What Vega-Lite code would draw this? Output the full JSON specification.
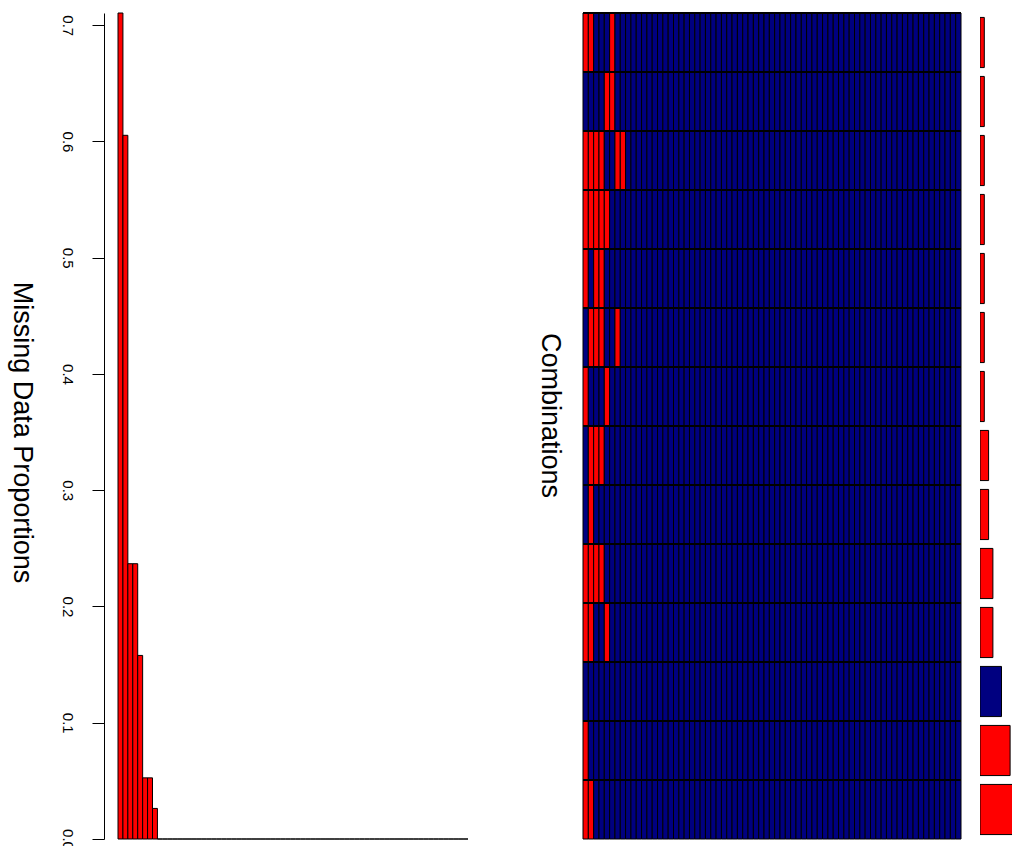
{
"$schema": "https://vega.github.io/schema/vega-lite/v6.json",
"padding": {"left": 8, "top": 12, "right": 0, "bottom": 0},
"config": {"view": {"stroke": null}, "font": "Liberation Sans"},
"bounds": "flush",
"spacing": 115,
"datasets": {
"vars": [{"v":1,"p":0.7105},{"v":2,"p":0.6053},{"v":3,"p":0.2368},{"v":4,"p":0.2368},{"v":5,"p":0.1579},{"v":6,"p":0.0526},{"v":7,"p":0.0526},{"v":8,"p":0.0263},{"v":9,"p":0},{"v":10,"p":0},{"v":11,"p":0},{"v":12,"p":0},{"v":13,"p":0},{"v":14,"p":0},{"v":15,"p":0},{"v":16,"p":0},{"v":17,"p":0},{"v":18,"p":0},{"v":19,"p":0},{"v":20,"p":0},{"v":21,"p":0},{"v":22,"p":0},{"v":23,"p":0},{"v":24,"p":0},{"v":25,"p":0},{"v":26,"p":0},{"v":27,"p":0},{"v":28,"p":0},{"v":29,"p":0},{"v":30,"p":0},{"v":31,"p":0},{"v":32,"p":0},{"v":33,"p":0},{"v":34,"p":0},{"v":35,"p":0},{"v":36,"p":0},{"v":37,"p":0},{"v":38,"p":0},{"v":39,"p":0},{"v":40,"p":0},{"v":41,"p":0},{"v":42,"p":0},{"v":43,"p":0},{"v":44,"p":0},{"v":45,"p":0},{"v":46,"p":0},{"v":47,"p":0},{"v":48,"p":0},{"v":49,"p":0},{"v":50,"p":0},{"v":51,"p":0},{"v":52,"p":0},{"v":53,"p":0},{"v":54,"p":0},{"v":55,"p":0},{"v":56,"p":0},{"v":57,"p":0},{"v":58,"p":0},{"v":59,"p":0},{"v":60,"p":0},{"v":61,"p":0},{"v":62,"p":0},{"v":63,"p":0},{"v":64,"p":0},{"v":65,"p":0},{"v":66,"p":0},{"v":67,"p":0},{"v":68,"p":0},{"v":69,"p":0},{"v":70,"p":0},{"v":71,"p":0}],
"combos": [{"r":1,"n":1},{"r":2,"n":1},{"r":3,"n":1},{"r":4,"n":1},{"r":5,"n":1},{"r":6,"n":1},{"r":7,"n":1},{"r":8,"n":2},{"r":9,"n":2},{"r":10,"n":3},{"r":11,"n":3},{"r":12,"n":5,"k":1},{"r":13,"n":7},{"r":14,"n":9}],
"cells": [
{"r":1,"v":1,"m":1},{"r":1,"v":2,"m":1},{"r":1,"v":3},{"r":1,"v":4},{"r":1,"v":5},{"r":1,"v":6,"m":1},{"r":1,"v":7},{"r":1,"v":8},{"r":1,"v":9},{"r":1,"v":10},{"r":1,"v":11},{"r":1,"v":12},{"r":1,"v":13},{"r":1,"v":14},{"r":1,"v":15},{"r":1,"v":16},{"r":1,"v":17},{"r":1,"v":18},{"r":1,"v":19},{"r":1,"v":20},{"r":1,"v":21},{"r":1,"v":22},{"r":1,"v":23},{"r":1,"v":24},{"r":1,"v":25},{"r":1,"v":26},{"r":1,"v":27},{"r":1,"v":28},{"r":1,"v":29},{"r":1,"v":30},{"r":1,"v":31},{"r":1,"v":32},{"r":1,"v":33},{"r":1,"v":34},{"r":1,"v":35},{"r":1,"v":36},{"r":1,"v":37},{"r":1,"v":38},{"r":1,"v":39},{"r":1,"v":40},{"r":1,"v":41},{"r":1,"v":42},{"r":1,"v":43},{"r":1,"v":44},{"r":1,"v":45},{"r":1,"v":46},{"r":1,"v":47},{"r":1,"v":48},{"r":1,"v":49},{"r":1,"v":50},{"r":1,"v":51},{"r":1,"v":52},{"r":1,"v":53},{"r":1,"v":54},{"r":1,"v":55},{"r":1,"v":56},{"r":1,"v":57},{"r":1,"v":58},{"r":1,"v":59},{"r":1,"v":60},{"r":1,"v":61},{"r":1,"v":62},{"r":1,"v":63},{"r":1,"v":64},{"r":1,"v":65},{"r":1,"v":66},{"r":1,"v":67},{"r":1,"v":68},{"r":1,"v":69},{"r":1,"v":70},{"r":1,"v":71},
{"r":2,"v":1},{"r":2,"v":2},{"r":2,"v":3},{"r":2,"v":4},{"r":2,"v":5,"m":1},{"r":2,"v":6,"m":1},{"r":2,"v":7},{"r":2,"v":8},{"r":2,"v":9},{"r":2,"v":10},{"r":2,"v":11},{"r":2,"v":12},{"r":2,"v":13},{"r":2,"v":14},{"r":2,"v":15},{"r":2,"v":16},{"r":2,"v":17},{"r":2,"v":18},{"r":2,"v":19},{"r":2,"v":20},{"r":2,"v":21},{"r":2,"v":22},{"r":2,"v":23},{"r":2,"v":24},{"r":2,"v":25},{"r":2,"v":26},{"r":2,"v":27},{"r":2,"v":28},{"r":2,"v":29},{"r":2,"v":30},{"r":2,"v":31},{"r":2,"v":32},{"r":2,"v":33},{"r":2,"v":34},{"r":2,"v":35},{"r":2,"v":36},{"r":2,"v":37},{"r":2,"v":38},{"r":2,"v":39},{"r":2,"v":40},{"r":2,"v":41},{"r":2,"v":42},{"r":2,"v":43},{"r":2,"v":44},{"r":2,"v":45},{"r":2,"v":46},{"r":2,"v":47},{"r":2,"v":48},{"r":2,"v":49},{"r":2,"v":50},{"r":2,"v":51},{"r":2,"v":52},{"r":2,"v":53},{"r":2,"v":54},{"r":2,"v":55},{"r":2,"v":56},{"r":2,"v":57},{"r":2,"v":58},{"r":2,"v":59},{"r":2,"v":60},{"r":2,"v":61},{"r":2,"v":62},{"r":2,"v":63},{"r":2,"v":64},{"r":2,"v":65},{"r":2,"v":66},{"r":2,"v":67},{"r":2,"v":68},{"r":2,"v":69},{"r":2,"v":70},{"r":2,"v":71},
{"r":3,"v":1,"m":1},{"r":3,"v":2,"m":1},{"r":3,"v":3,"m":1},{"r":3,"v":4,"m":1},{"r":3,"v":5},{"r":3,"v":6},{"r":3,"v":7,"m":1},{"r":3,"v":8,"m":1},{"r":3,"v":9},{"r":3,"v":10},{"r":3,"v":11},{"r":3,"v":12},{"r":3,"v":13},{"r":3,"v":14},{"r":3,"v":15},{"r":3,"v":16},{"r":3,"v":17},{"r":3,"v":18},{"r":3,"v":19},{"r":3,"v":20},{"r":3,"v":21},{"r":3,"v":22},{"r":3,"v":23},{"r":3,"v":24},{"r":3,"v":25},{"r":3,"v":26},{"r":3,"v":27},{"r":3,"v":28},{"r":3,"v":29},{"r":3,"v":30},{"r":3,"v":31},{"r":3,"v":32},{"r":3,"v":33},{"r":3,"v":34},{"r":3,"v":35},{"r":3,"v":36},{"r":3,"v":37},{"r":3,"v":38},{"r":3,"v":39},{"r":3,"v":40},{"r":3,"v":41},{"r":3,"v":42},{"r":3,"v":43},{"r":3,"v":44},{"r":3,"v":45},{"r":3,"v":46},{"r":3,"v":47},{"r":3,"v":48},{"r":3,"v":49},{"r":3,"v":50},{"r":3,"v":51},{"r":3,"v":52},{"r":3,"v":53},{"r":3,"v":54},{"r":3,"v":55},{"r":3,"v":56},{"r":3,"v":57},{"r":3,"v":58},{"r":3,"v":59},{"r":3,"v":60},{"r":3,"v":61},{"r":3,"v":62},{"r":3,"v":63},{"r":3,"v":64},{"r":3,"v":65},{"r":3,"v":66},{"r":3,"v":67},{"r":3,"v":68},{"r":3,"v":69},{"r":3,"v":70},{"r":3,"v":71},
{"r":4,"v":1,"m":1},{"r":4,"v":2,"m":1},{"r":4,"v":3,"m":1},{"r":4,"v":4,"m":1},{"r":4,"v":5,"m":1},{"r":4,"v":6},{"r":4,"v":7},{"r":4,"v":8},{"r":4,"v":9},{"r":4,"v":10},{"r":4,"v":11},{"r":4,"v":12},{"r":4,"v":13},{"r":4,"v":14},{"r":4,"v":15},{"r":4,"v":16},{"r":4,"v":17},{"r":4,"v":18},{"r":4,"v":19},{"r":4,"v":20},{"r":4,"v":21},{"r":4,"v":22},{"r":4,"v":23},{"r":4,"v":24},{"r":4,"v":25},{"r":4,"v":26},{"r":4,"v":27},{"r":4,"v":28},{"r":4,"v":29},{"r":4,"v":30},{"r":4,"v":31},{"r":4,"v":32},{"r":4,"v":33},{"r":4,"v":34},{"r":4,"v":35},{"r":4,"v":36},{"r":4,"v":37},{"r":4,"v":38},{"r":4,"v":39},{"r":4,"v":40},{"r":4,"v":41},{"r":4,"v":42},{"r":4,"v":43},{"r":4,"v":44},{"r":4,"v":45},{"r":4,"v":46},{"r":4,"v":47},{"r":4,"v":48},{"r":4,"v":49},{"r":4,"v":50},{"r":4,"v":51},{"r":4,"v":52},{"r":4,"v":53},{"r":4,"v":54},{"r":4,"v":55},{"r":4,"v":56},{"r":4,"v":57},{"r":4,"v":58},{"r":4,"v":59},{"r":4,"v":60},{"r":4,"v":61},{"r":4,"v":62},{"r":4,"v":63},{"r":4,"v":64},{"r":4,"v":65},{"r":4,"v":66},{"r":4,"v":67},{"r":4,"v":68},{"r":4,"v":69},{"r":4,"v":70},{"r":4,"v":71},
{"r":5,"v":1,"m":1},{"r":5,"v":2},{"r":5,"v":3,"m":1},{"r":5,"v":4,"m":1},{"r":5,"v":5},{"r":5,"v":6},{"r":5,"v":7},{"r":5,"v":8},{"r":5,"v":9},{"r":5,"v":10},{"r":5,"v":11},{"r":5,"v":12},{"r":5,"v":13},{"r":5,"v":14},{"r":5,"v":15},{"r":5,"v":16},{"r":5,"v":17},{"r":5,"v":18},{"r":5,"v":19},{"r":5,"v":20},{"r":5,"v":21},{"r":5,"v":22},{"r":5,"v":23},{"r":5,"v":24},{"r":5,"v":25},{"r":5,"v":26},{"r":5,"v":27},{"r":5,"v":28},{"r":5,"v":29},{"r":5,"v":30},{"r":5,"v":31},{"r":5,"v":32},{"r":5,"v":33},{"r":5,"v":34},{"r":5,"v":35},{"r":5,"v":36},{"r":5,"v":37},{"r":5,"v":38},{"r":5,"v":39},{"r":5,"v":40},{"r":5,"v":41},{"r":5,"v":42},{"r":5,"v":43},{"r":5,"v":44},{"r":5,"v":45},{"r":5,"v":46},{"r":5,"v":47},{"r":5,"v":48},{"r":5,"v":49},{"r":5,"v":50},{"r":5,"v":51},{"r":5,"v":52},{"r":5,"v":53},{"r":5,"v":54},{"r":5,"v":55},{"r":5,"v":56},{"r":5,"v":57},{"r":5,"v":58},{"r":5,"v":59},{"r":5,"v":60},{"r":5,"v":61},{"r":5,"v":62},{"r":5,"v":63},{"r":5,"v":64},{"r":5,"v":65},{"r":5,"v":66},{"r":5,"v":67},{"r":5,"v":68},{"r":5,"v":69},{"r":5,"v":70},{"r":5,"v":71},
{"r":6,"v":1},{"r":6,"v":2,"m":1},{"r":6,"v":3,"m":1},{"r":6,"v":4,"m":1},{"r":6,"v":5},{"r":6,"v":6},{"r":6,"v":7,"m":1},{"r":6,"v":8},{"r":6,"v":9},{"r":6,"v":10},{"r":6,"v":11},{"r":6,"v":12},{"r":6,"v":13},{"r":6,"v":14},{"r":6,"v":15},{"r":6,"v":16},{"r":6,"v":17},{"r":6,"v":18},{"r":6,"v":19},{"r":6,"v":20},{"r":6,"v":21},{"r":6,"v":22},{"r":6,"v":23},{"r":6,"v":24},{"r":6,"v":25},{"r":6,"v":26},{"r":6,"v":27},{"r":6,"v":28},{"r":6,"v":29},{"r":6,"v":30},{"r":6,"v":31},{"r":6,"v":32},{"r":6,"v":33},{"r":6,"v":34},{"r":6,"v":35},{"r":6,"v":36},{"r":6,"v":37},{"r":6,"v":38},{"r":6,"v":39},{"r":6,"v":40},{"r":6,"v":41},{"r":6,"v":42},{"r":6,"v":43},{"r":6,"v":44},{"r":6,"v":45},{"r":6,"v":46},{"r":6,"v":47},{"r":6,"v":48},{"r":6,"v":49},{"r":6,"v":50},{"r":6,"v":51},{"r":6,"v":52},{"r":6,"v":53},{"r":6,"v":54},{"r":6,"v":55},{"r":6,"v":56},{"r":6,"v":57},{"r":6,"v":58},{"r":6,"v":59},{"r":6,"v":60},{"r":6,"v":61},{"r":6,"v":62},{"r":6,"v":63},{"r":6,"v":64},{"r":6,"v":65},{"r":6,"v":66},{"r":6,"v":67},{"r":6,"v":68},{"r":6,"v":69},{"r":6,"v":70},{"r":6,"v":71},
{"r":7,"v":1,"m":1},{"r":7,"v":2},{"r":7,"v":3},{"r":7,"v":4},{"r":7,"v":5,"m":1},{"r":7,"v":6},{"r":7,"v":7},{"r":7,"v":8},{"r":7,"v":9},{"r":7,"v":10},{"r":7,"v":11},{"r":7,"v":12},{"r":7,"v":13},{"r":7,"v":14},{"r":7,"v":15},{"r":7,"v":16},{"r":7,"v":17},{"r":7,"v":18},{"r":7,"v":19},{"r":7,"v":20},{"r":7,"v":21},{"r":7,"v":22},{"r":7,"v":23},{"r":7,"v":24},{"r":7,"v":25},{"r":7,"v":26},{"r":7,"v":27},{"r":7,"v":28},{"r":7,"v":29},{"r":7,"v":30},{"r":7,"v":31},{"r":7,"v":32},{"r":7,"v":33},{"r":7,"v":34},{"r":7,"v":35},{"r":7,"v":36},{"r":7,"v":37},{"r":7,"v":38},{"r":7,"v":39},{"r":7,"v":40},{"r":7,"v":41},{"r":7,"v":42},{"r":7,"v":43},{"r":7,"v":44},{"r":7,"v":45},{"r":7,"v":46},{"r":7,"v":47},{"r":7,"v":48},{"r":7,"v":49},{"r":7,"v":50},{"r":7,"v":51},{"r":7,"v":52},{"r":7,"v":53},{"r":7,"v":54},{"r":7,"v":55},{"r":7,"v":56},{"r":7,"v":57},{"r":7,"v":58},{"r":7,"v":59},{"r":7,"v":60},{"r":7,"v":61},{"r":7,"v":62},{"r":7,"v":63},{"r":7,"v":64},{"r":7,"v":65},{"r":7,"v":66},{"r":7,"v":67},{"r":7,"v":68},{"r":7,"v":69},{"r":7,"v":70},{"r":7,"v":71},
{"r":8,"v":1},{"r":8,"v":2,"m":1},{"r":8,"v":3,"m":1},{"r":8,"v":4,"m":1},{"r":8,"v":5},{"r":8,"v":6},{"r":8,"v":7},{"r":8,"v":8},{"r":8,"v":9},{"r":8,"v":10},{"r":8,"v":11},{"r":8,"v":12},{"r":8,"v":13},{"r":8,"v":14},{"r":8,"v":15},{"r":8,"v":16},{"r":8,"v":17},{"r":8,"v":18},{"r":8,"v":19},{"r":8,"v":20},{"r":8,"v":21},{"r":8,"v":22},{"r":8,"v":23},{"r":8,"v":24},{"r":8,"v":25},{"r":8,"v":26},{"r":8,"v":27},{"r":8,"v":28},{"r":8,"v":29},{"r":8,"v":30},{"r":8,"v":31},{"r":8,"v":32},{"r":8,"v":33},{"r":8,"v":34},{"r":8,"v":35},{"r":8,"v":36},{"r":8,"v":37},{"r":8,"v":38},{"r":8,"v":39},{"r":8,"v":40},{"r":8,"v":41},{"r":8,"v":42},{"r":8,"v":43},{"r":8,"v":44},{"r":8,"v":45},{"r":8,"v":46},{"r":8,"v":47},{"r":8,"v":48},{"r":8,"v":49},{"r":8,"v":50},{"r":8,"v":51},{"r":8,"v":52},{"r":8,"v":53},{"r":8,"v":54},{"r":8,"v":55},{"r":8,"v":56},{"r":8,"v":57},{"r":8,"v":58},{"r":8,"v":59},{"r":8,"v":60},{"r":8,"v":61},{"r":8,"v":62},{"r":8,"v":63},{"r":8,"v":64},{"r":8,"v":65},{"r":8,"v":66},{"r":8,"v":67},{"r":8,"v":68},{"r":8,"v":69},{"r":8,"v":70},{"r":8,"v":71},
{"r":9,"v":1},{"r":9,"v":2,"m":1},{"r":9,"v":3},{"r":9,"v":4},{"r":9,"v":5},{"r":9,"v":6},{"r":9,"v":7},{"r":9,"v":8},{"r":9,"v":9},{"r":9,"v":10},{"r":9,"v":11},{"r":9,"v":12},{"r":9,"v":13},{"r":9,"v":14},{"r":9,"v":15},{"r":9,"v":16},{"r":9,"v":17},{"r":9,"v":18},{"r":9,"v":19},{"r":9,"v":20},{"r":9,"v":21},{"r":9,"v":22},{"r":9,"v":23},{"r":9,"v":24},{"r":9,"v":25},{"r":9,"v":26},{"r":9,"v":27},{"r":9,"v":28},{"r":9,"v":29},{"r":9,"v":30},{"r":9,"v":31},{"r":9,"v":32},{"r":9,"v":33},{"r":9,"v":34},{"r":9,"v":35},{"r":9,"v":36},{"r":9,"v":37},{"r":9,"v":38},{"r":9,"v":39},{"r":9,"v":40},{"r":9,"v":41},{"r":9,"v":42},{"r":9,"v":43},{"r":9,"v":44},{"r":9,"v":45},{"r":9,"v":46},{"r":9,"v":47},{"r":9,"v":48},{"r":9,"v":49},{"r":9,"v":50},{"r":9,"v":51},{"r":9,"v":52},{"r":9,"v":53},{"r":9,"v":54},{"r":9,"v":55},{"r":9,"v":56},{"r":9,"v":57},{"r":9,"v":58},{"r":9,"v":59},{"r":9,"v":60},{"r":9,"v":61},{"r":9,"v":62},{"r":9,"v":63},{"r":9,"v":64},{"r":9,"v":65},{"r":9,"v":66},{"r":9,"v":67},{"r":9,"v":68},{"r":9,"v":69},{"r":9,"v":70},{"r":9,"v":71},
{"r":10,"v":1,"m":1},{"r":10,"v":2,"m":1},{"r":10,"v":3,"m":1},{"r":10,"v":4,"m":1},{"r":10,"v":5},{"r":10,"v":6},{"r":10,"v":7},{"r":10,"v":8},{"r":10,"v":9},{"r":10,"v":10},{"r":10,"v":11},{"r":10,"v":12},{"r":10,"v":13},{"r":10,"v":14},{"r":10,"v":15},{"r":10,"v":16},{"r":10,"v":17},{"r":10,"v":18},{"r":10,"v":19},{"r":10,"v":20},{"r":10,"v":21},{"r":10,"v":22},{"r":10,"v":23},{"r":10,"v":24},{"r":10,"v":25},{"r":10,"v":26},{"r":10,"v":27},{"r":10,"v":28},{"r":10,"v":29},{"r":10,"v":30},{"r":10,"v":31},{"r":10,"v":32},{"r":10,"v":33},{"r":10,"v":34},{"r":10,"v":35},{"r":10,"v":36},{"r":10,"v":37},{"r":10,"v":38},{"r":10,"v":39},{"r":10,"v":40},{"r":10,"v":41},{"r":10,"v":42},{"r":10,"v":43},{"r":10,"v":44},{"r":10,"v":45},{"r":10,"v":46},{"r":10,"v":47},{"r":10,"v":48},{"r":10,"v":49},{"r":10,"v":50},{"r":10,"v":51},{"r":10,"v":52},{"r":10,"v":53},{"r":10,"v":54},{"r":10,"v":55},{"r":10,"v":56},{"r":10,"v":57},{"r":10,"v":58},{"r":10,"v":59},{"r":10,"v":60},{"r":10,"v":61},{"r":10,"v":62},{"r":10,"v":63},{"r":10,"v":64},{"r":10,"v":65},{"r":10,"v":66},{"r":10,"v":67},{"r":10,"v":68},{"r":10,"v":69},{"r":10,"v":70},{"r":10,"v":71},
{"r":11,"v":1,"m":1},{"r":11,"v":2,"m":1},{"r":11,"v":3},{"r":11,"v":4},{"r":11,"v":5,"m":1},{"r":11,"v":6},{"r":11,"v":7},{"r":11,"v":8},{"r":11,"v":9},{"r":11,"v":10},{"r":11,"v":11},{"r":11,"v":12},{"r":11,"v":13},{"r":11,"v":14},{"r":11,"v":15},{"r":11,"v":16},{"r":11,"v":17},{"r":11,"v":18},{"r":11,"v":19},{"r":11,"v":20},{"r":11,"v":21},{"r":11,"v":22},{"r":11,"v":23},{"r":11,"v":24},{"r":11,"v":25},{"r":11,"v":26},{"r":11,"v":27},{"r":11,"v":28},{"r":11,"v":29},{"r":11,"v":30},{"r":11,"v":31},{"r":11,"v":32},{"r":11,"v":33},{"r":11,"v":34},{"r":11,"v":35},{"r":11,"v":36},{"r":11,"v":37},{"r":11,"v":38},{"r":11,"v":39},{"r":11,"v":40},{"r":11,"v":41},{"r":11,"v":42},{"r":11,"v":43},{"r":11,"v":44},{"r":11,"v":45},{"r":11,"v":46},{"r":11,"v":47},{"r":11,"v":48},{"r":11,"v":49},{"r":11,"v":50},{"r":11,"v":51},{"r":11,"v":52},{"r":11,"v":53},{"r":11,"v":54},{"r":11,"v":55},{"r":11,"v":56},{"r":11,"v":57},{"r":11,"v":58},{"r":11,"v":59},{"r":11,"v":60},{"r":11,"v":61},{"r":11,"v":62},{"r":11,"v":63},{"r":11,"v":64},{"r":11,"v":65},{"r":11,"v":66},{"r":11,"v":67},{"r":11,"v":68},{"r":11,"v":69},{"r":11,"v":70},{"r":11,"v":71},
{"r":12,"v":1},{"r":12,"v":2},{"r":12,"v":3},{"r":12,"v":4},{"r":12,"v":5},{"r":12,"v":6},{"r":12,"v":7},{"r":12,"v":8},{"r":12,"v":9},{"r":12,"v":10},{"r":12,"v":11},{"r":12,"v":12},{"r":12,"v":13},{"r":12,"v":14},{"r":12,"v":15},{"r":12,"v":16},{"r":12,"v":17},{"r":12,"v":18},{"r":12,"v":19},{"r":12,"v":20},{"r":12,"v":21},{"r":12,"v":22},{"r":12,"v":23},{"r":12,"v":24},{"r":12,"v":25},{"r":12,"v":26},{"r":12,"v":27},{"r":12,"v":28},{"r":12,"v":29},{"r":12,"v":30},{"r":12,"v":31},{"r":12,"v":32},{"r":12,"v":33},{"r":12,"v":34},{"r":12,"v":35},{"r":12,"v":36},{"r":12,"v":37},{"r":12,"v":38},{"r":12,"v":39},{"r":12,"v":40},{"r":12,"v":41},{"r":12,"v":42},{"r":12,"v":43},{"r":12,"v":44},{"r":12,"v":45},{"r":12,"v":46},{"r":12,"v":47},{"r":12,"v":48},{"r":12,"v":49},{"r":12,"v":50},{"r":12,"v":51},{"r":12,"v":52},{"r":12,"v":53},{"r":12,"v":54},{"r":12,"v":55},{"r":12,"v":56},{"r":12,"v":57},{"r":12,"v":58},{"r":12,"v":59},{"r":12,"v":60},{"r":12,"v":61},{"r":12,"v":62},{"r":12,"v":63},{"r":12,"v":64},{"r":12,"v":65},{"r":12,"v":66},{"r":12,"v":67},{"r":12,"v":68},{"r":12,"v":69},{"r":12,"v":70},{"r":12,"v":71},
{"r":13,"v":1,"m":1},{"r":13,"v":2},{"r":13,"v":3},{"r":13,"v":4},{"r":13,"v":5},{"r":13,"v":6},{"r":13,"v":7},{"r":13,"v":8},{"r":13,"v":9},{"r":13,"v":10},{"r":13,"v":11},{"r":13,"v":12},{"r":13,"v":13},{"r":13,"v":14},{"r":13,"v":15},{"r":13,"v":16},{"r":13,"v":17},{"r":13,"v":18},{"r":13,"v":19},{"r":13,"v":20},{"r":13,"v":21},{"r":13,"v":22},{"r":13,"v":23},{"r":13,"v":24},{"r":13,"v":25},{"r":13,"v":26},{"r":13,"v":27},{"r":13,"v":28},{"r":13,"v":29},{"r":13,"v":30},{"r":13,"v":31},{"r":13,"v":32},{"r":13,"v":33},{"r":13,"v":34},{"r":13,"v":35},{"r":13,"v":36},{"r":13,"v":37},{"r":13,"v":38},{"r":13,"v":39},{"r":13,"v":40},{"r":13,"v":41},{"r":13,"v":42},{"r":13,"v":43},{"r":13,"v":44},{"r":13,"v":45},{"r":13,"v":46},{"r":13,"v":47},{"r":13,"v":48},{"r":13,"v":49},{"r":13,"v":50},{"r":13,"v":51},{"r":13,"v":52},{"r":13,"v":53},{"r":13,"v":54},{"r":13,"v":55},{"r":13,"v":56},{"r":13,"v":57},{"r":13,"v":58},{"r":13,"v":59},{"r":13,"v":60},{"r":13,"v":61},{"r":13,"v":62},{"r":13,"v":63},{"r":13,"v":64},{"r":13,"v":65},{"r":13,"v":66},{"r":13,"v":67},{"r":13,"v":68},{"r":13,"v":69},{"r":13,"v":70},{"r":13,"v":71},
{"r":14,"v":1,"m":1},{"r":14,"v":2,"m":1},{"r":14,"v":3},{"r":14,"v":4},{"r":14,"v":5},{"r":14,"v":6},{"r":14,"v":7},{"r":14,"v":8},{"r":14,"v":9},{"r":14,"v":10},{"r":14,"v":11},{"r":14,"v":12},{"r":14,"v":13},{"r":14,"v":14},{"r":14,"v":15},{"r":14,"v":16},{"r":14,"v":17},{"r":14,"v":18},{"r":14,"v":19},{"r":14,"v":20},{"r":14,"v":21},{"r":14,"v":22},{"r":14,"v":23},{"r":14,"v":24},{"r":14,"v":25},{"r":14,"v":26},{"r":14,"v":27},{"r":14,"v":28},{"r":14,"v":29},{"r":14,"v":30},{"r":14,"v":31},{"r":14,"v":32},{"r":14,"v":33},{"r":14,"v":34},{"r":14,"v":35},{"r":14,"v":36},{"r":14,"v":37},{"r":14,"v":38},{"r":14,"v":39},{"r":14,"v":40},{"r":14,"v":41},{"r":14,"v":42},{"r":14,"v":43},{"r":14,"v":44},{"r":14,"v":45},{"r":14,"v":46},{"r":14,"v":47},{"r":14,"v":48},{"r":14,"v":49},{"r":14,"v":50},{"r":14,"v":51},{"r":14,"v":52},{"r":14,"v":53},{"r":14,"v":54},{"r":14,"v":55},{"r":14,"v":56},{"r":14,"v":57},{"r":14,"v":58},{"r":14,"v":59},{"r":14,"v":60},{"r":14,"v":61},{"r":14,"v":62},{"r":14,"v":63},{"r":14,"v":64},{"r":14,"v":65},{"r":14,"v":66},{"r":14,"v":67},{"r":14,"v":68},{"r":14,"v":69},{"r":14,"v":70},{"r":14,"v":71}
]
},
"hconcat": [
{
"width": 350, "height": 826,
"data": {"name": "vars"},
"mark": {"type": "bar", "fill": "#FF0000", "stroke": "black", "strokeWidth": 1},
"encoding": {
"x": {"field": "v", "type": "ordinal", "scale": {"paddingInner": 0, "paddingOuter": 0}, "axis": null},
"y": {"field": "p", "type": "quantitative", "scale": {"domain": [0, 0.7105], "nice": false},
"axis": {"title": "Missing Data Proportions", "values": [0, 0.1, 0.2, 0.3, 0.4, 0.5, 0.6, 0.7], "format": ".1f", "grid": false, "offset": 14,
"tickSize": 12, "tickColor": "black", "domainColor": "black", "labelColor": "black", "labelFontSize": 15,
"labelAngle": 90, "labelAlign": "center", "labelBaseline": "top", "labelPadding": 18,
"titleFontSize": 27, "titleFontWeight": "normal", "titleColor": "black", "titleAngle": 90, "titleBaseline": "top", "titlePadding": 25, "titleY": 419}}
}
},
{
"bounds": "flush",
"spacing": 19,
"hconcat": [
{
"width": 378, "height": 826,
"layer": [
{
"data": {"name": "cells"},
"mark": {"type": "rect", "stroke": "black", "strokeWidth": 1},
"encoding": {
"x": {"field": "v", "type": "ordinal", "scale": {"paddingInner": 0, "paddingOuter": 0}, "axis": null},
"y": {"field": "r", "type": "ordinal", "scale": {"paddingInner": 0, "paddingOuter": 0},
"axis": {"title": "Combinations", "labels": false, "ticks": false, "domain": false, "titleFontSize": 27, "titleFontWeight": "normal", "titleColor": "black", "titleAngle": 90, "titleBaseline": "top", "titlePadding": 21, "titleY": 402}},
"fill": {"condition": {"test": "datum.m", "value": "#FF0000"}, "value": "#000080"}
}
},
{
"data": {"name": "combos"},
"mark": {"type": "rule", "stroke": "black", "strokeWidth": 2},
"encoding": {
"y": {"field": "r", "type": "ordinal", "bandPosition": 0,
"axis": {"title": "Combinations", "labels": false, "ticks": false, "domain": false, "titleFontSize": 27, "titleFontWeight": "normal", "titleColor": "black", "titleAngle": 90, "titleBaseline": "top", "titlePadding": 21, "titleY": 402}}
}
}
]
},
{
"width": 32, "height": 826,
"data": {"name": "combos"},
"mark": {"type": "bar", "stroke": "black", "strokeWidth": 1, "clip": true},
"encoding": {
"x": {"field": "n", "type": "quantitative", "scale": {"domain": [0, 7.44], "nice": false}, "axis": null},
"y": {"field": "r", "type": "ordinal", "scale": {"paddingInner": 0.15, "paddingOuter": 0.075}, "axis": null},
"fill": {"condition": {"test": "datum.k", "value": "#000080"}, "value": "#FF0000"}
}
}
]
}
]
}
